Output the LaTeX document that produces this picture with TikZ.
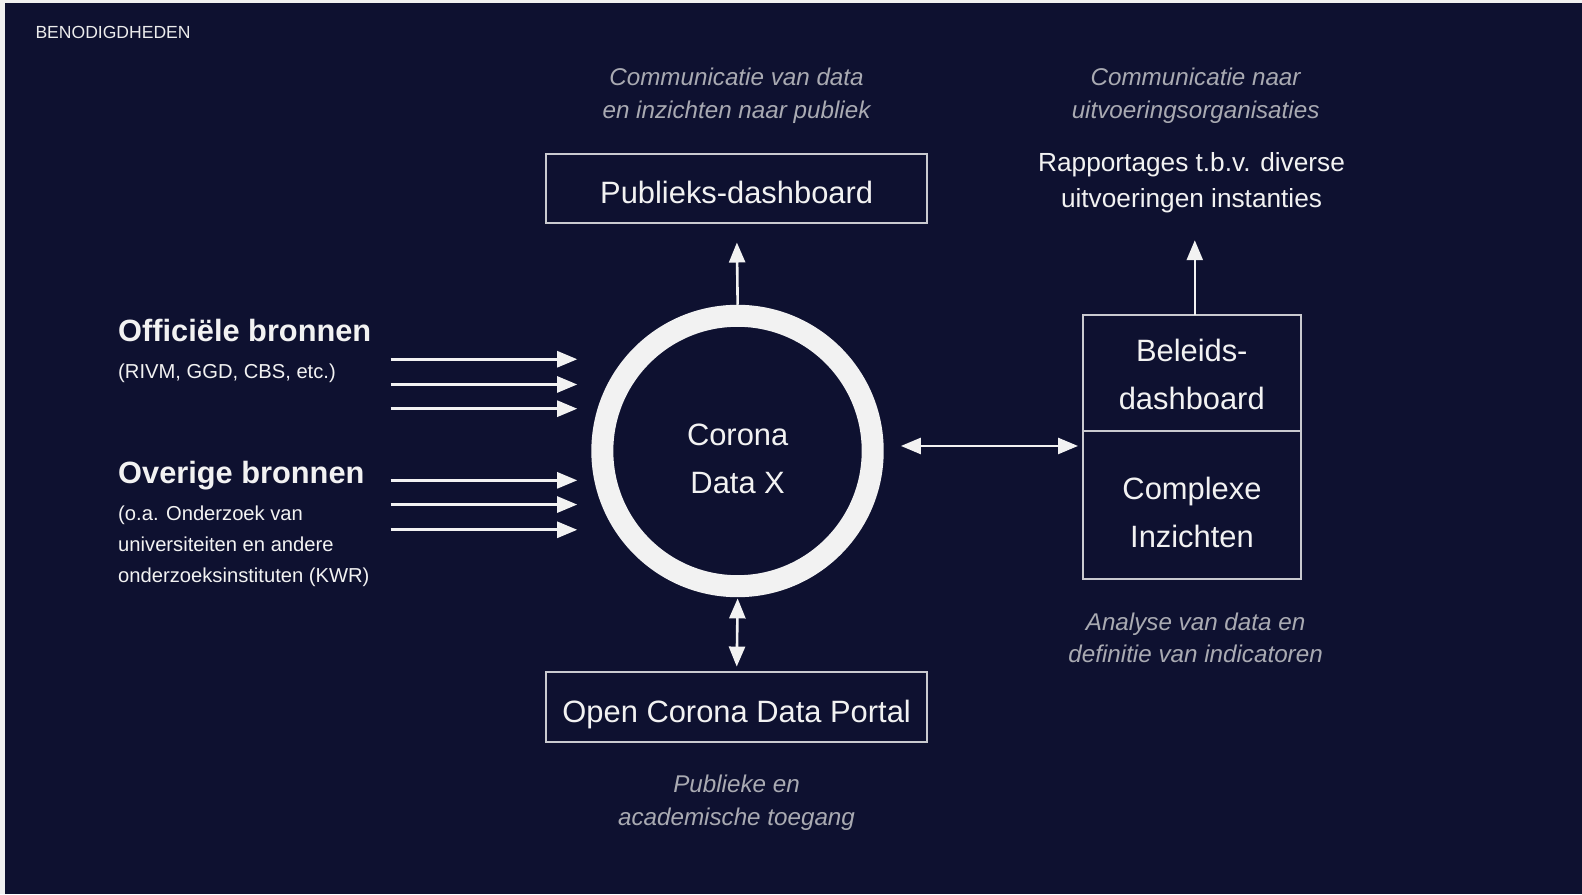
\documentclass[tikz,border=0pt]{standalone}
\usepackage{fontspec}
\setmainfont{Liberation Sans}
\usetikzlibrary{arrows.meta}

\definecolor{navy}{HTML}{0E1130}
\definecolor{capgray}{HTML}{A9AAB2}
\definecolor{boxgray}{HTML}{C9CACF}
\definecolor{offwhite}{HTML}{F2F2F2}

\tikzset{
  lbl/.style={text=offwhite, inner sep=0, align=center},
  bijschrift/.style={text=capgray, inner sep=0, align=center, font=\fontsize{24}{32}\selectfont\itshape},
  blok/.style={draw=boxgray, line width=2pt, outer sep=0, inner sep=0},
  bloktekst/.style={lbl, font=\fontsize{30.6}{47}\selectfont},
  pijl/.style={draw=offwhite, line width=2.6pt, -{Triangle[length=20pt,width=16pt]}},
  dpijl/.style={pijl, {Triangle[length=20pt,width=16pt]}-{Triangle[length=20pt,width=16pt]}},
}

\begin{document}
\begin{tikzpicture}[x=1pt, y=-1pt, scale=1.00893, transform shape]
    \useasboundingbox (0,0) rectangle (1568,886.1);
    \fill[white!88!gray] (0,0) rectangle (1568,886.1);
    \fill[navy] (5,3) rectangle (1568,886.1);

    \node[lbl, anchor=west, text=white!85!gray, font=\fontsize{17.4}{20}\selectfont] (kop) at (35,32) {BENODIGDHEDEN};

    % centre
    \node[circle, draw=offwhite, line width=22pt, minimum size=268pt, inner sep=0,
          label={[bloktekst, font=\fontsize{30.6}{48}\selectfont, yshift=-8pt]center:Corona\\Data X}] (cdx) at (731,447) {};

    % boxes
    \node[blok, minimum width=378pt, minimum height=69pt,
          label={[bloktekst, yshift=-4pt]center:Publieks-dashboard}] (publiek) at (730,187) {};
    \node[blok, minimum width=378pt, minimum height=69pt,
          label={[bloktekst, yshift=-7pt]center:Open Corona Data Portal}] (portal) at (730,701) {};
    \node[blok, minimum width=216pt, minimum height=115pt,
          label={[bloktekst, yshift=-1pt]center:Beleids-\\dashboard}] (beleid) at (1181,370) {};
    \node[blok, minimum width=216pt, minimum height=146pt, anchor=north,
          label={[bloktekst, font=\fontsize{30.6}{48}\selectfont, yshift=-7pt]center:Complexe\\Inzichten}] (complex) at (beleid.south) {};

    % captions
    \node[bijschrift] (capPubliek) at (730,95) {Communicatie van data\\en inzichten naar publiek};
    \node[bijschrift] (capUitv) at (1185,95) {Communicatie naar\\uitvoeringsorganisaties};
    \node[lbl, font=\fontsize{26}{36}\selectfont] (rapport) at (1181,181) {Rapportages t.b.v. diverse\\uitvoeringen instanties};
    \node[bijschrift] (capAnalyse) at (1185,632) {Analyse van data en\\definitie van indicatoren};
    \node[bijschrift] (capPortal) at (730,795.5) {Publieke en\\academische toegang};

    % sources
    \node[lbl, anchor=west, font=\fontsize{30.5}{36}\selectfont\bfseries] (officieel) at (117,328) {Officiële bronnen};
    \node[lbl, anchor=west, font=\fontsize{20}{31}\selectfont] (officieelSub) at (117,369.5) {(RIVM, GGD, CBS, etc.)};
    \node[lbl, anchor=west, font=\fontsize{30.5}{36}\selectfont\bfseries] (overig) at (117,471) {Overige bronnen};
    \node[lbl, anchor=north west, align=left, font=\fontsize{20}{31}\selectfont] (overigSub) at (117,501) {(o.a. Onderzoek van\\universiteiten en andere\\onderzoeksinstituten (KWR)};

    % arrows
    \foreach \y [count=\i] in {356,381,405,476,500,525} {
        \coordinate (bron\i) at (387,\y);
        \coordinate (doel\i) at (572,\y);
        \draw[pijl] (bron\i) -- (doel\i);
    }
    \draw[pijl, shorten >=19pt] (cdx.north) -- (publiek.south);
    \draw[dpijl, shorten <=1pt, shorten >=6pt] (cdx.south) -- (portal.north);
    \draw[dpijl, shorten <=17pt, shorten >=5pt] (cdx.2) -- (cdx.2 -| complex.west);
    \draw[pijl, shorten >=27pt] ([xshift=3pt]beleid.north) -- ([xshift=3pt]rapport.south);
\end{tikzpicture}
\end{document}
